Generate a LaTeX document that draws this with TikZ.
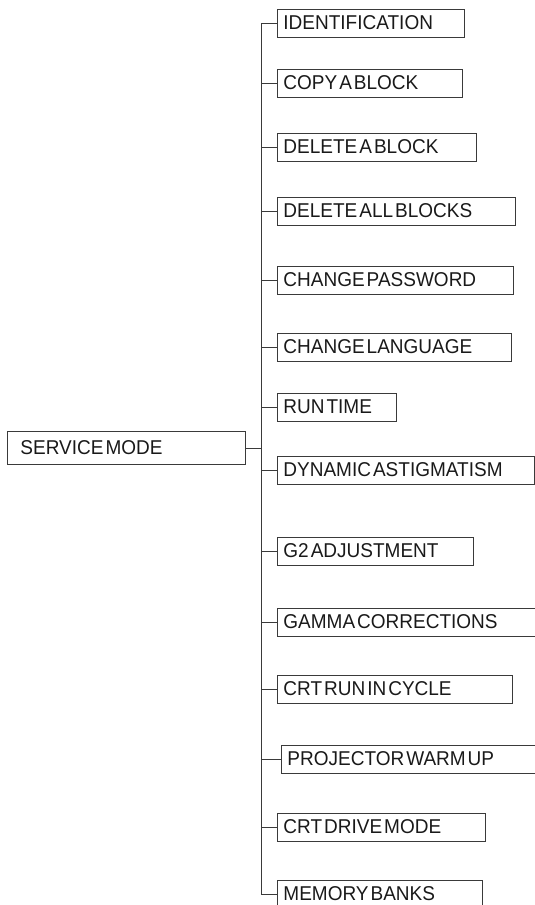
\documentclass[tikz,border=0pt]{standalone}
\usepackage{fontspec}
\setmainfont{Liberation Sans}[FakeStretch=0.95]
\definecolor{linegray}{HTML}{3A3A3A}
\newcommand\menufont{\fontsize{20}{22}\selectfont}
\newcommand\tightwords{\spaceskip=2pt\relax}
\tikzset{
    menubox/.style={draw=linegray, line width=0.9pt, inner xsep=6pt, inner ysep=0pt,
        minimum height=28pt, anchor=west, align=left, text=black!90,
        font=\menufont},
    twig/.style={draw=linegray, line width=0.9pt},
}
\begin{document}
\begin{tikzpicture}[x=1pt, y=-1pt]
    \useasboundingbox (0,0) rectangle (535,905);

    % 根节点
    \node[menubox, minimum height=33pt, inner xsep=13pt, text width=212pt] (root) at (7,448) {\tightwords SERVICE MODE};
    \coordinate (trunk) at (261,448);

    % 菜单项
    \foreach \n/\y/\l/\r/\txt in {
        1/23/277/464/IDENTIFICATION,
        2/83/277/462/COPY A BLOCK,
        3/147/277/476/DELETE A BLOCK,
        4/211/277/515/DELETE ALL BLOCKS,
        5/280/277/513/CHANGE PASSWORD,
        6/347/277/511/CHANGE LANGUAGE,
        7/407/277/396/RUN TIME,
        8/470/277/534/DYNAMIC ASTIGMATISM,
        9/551/277/473/G2 ADJUSTMENT,
        10/622/277/545/GAMMA CORRECTIONS,
        11/689/277/512/CRT RUN IN CYCLE,
        12/759/281/545/PROJECTOR WARM UP,
        13/827/277/485/CRT DRIVE MODE,
        14/894/277/482/MEMORY BANKS} {
        \pgfmathsetmacro\tw{\r-\l-12}
        \node[menubox, text width=\tw pt] (item\n) at (\l,\y) {\tightwords\txt};
        \draw[twig] (item\n.west) -- (item\n.west -| trunk);
    }

    % 主干
    \draw[twig] (root.east) -- (trunk);
    \draw[twig] (item1.west -| trunk) -- (item14.west -| trunk);
\end{tikzpicture}
\end{document}
